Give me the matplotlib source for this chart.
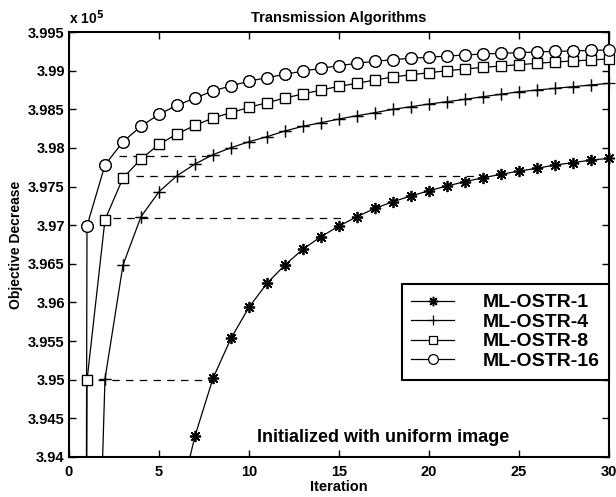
import numpy as np
import matplotlib
matplotlib.use('Agg')
import matplotlib.pyplot as plt
from matplotlib.ticker import MultipleLocator, FormatStrFormatter

plt.rcParams['font.family'] = ['Liberation Sans', 'DejaVu Sans']
plt.rcParams['font.weight'] = 'bold'

# iterations 0..30, values in units of 1e5
iters = np.arange(0, 31)

ostr1 = [3.0, 3.55, 3.74, 3.83, 3.88, 3.912, 3.933, 3.94272, 3.95018, 3.95536,
         3.95937, 3.96248, 3.96485, 3.9669, 3.96851, 3.96989, 3.9711, 3.97218,
         3.97304, 3.97378, 3.97446, 3.97507, 3.97563, 3.97614, 3.97658, 3.97701,
         3.97736, 3.97779, 3.97809, 3.97843, 3.97865]
ostr4 = [3.0, 3.873, 3.9501, 3.96485, 3.9711, 3.97433, 3.9764, 3.97792, 3.97912,
         3.98003, 3.9808, 3.98145, 3.98219, 3.9828, 3.98326, 3.98374, 3.98417,
         3.98456, 3.985, 3.98533, 3.98568, 3.98598, 3.98629, 3.98663, 3.98694,
         3.98727, 3.98749, 3.98771, 3.98792, 3.98814, 3.98836]
ostr8 = [3.0, 3.9499, 3.9707, 3.9761, 3.97856, 3.98047, 3.9818, 3.98292, 3.98387,
         3.98456, 3.98525, 3.98585, 3.98646, 3.98698, 3.98749, 3.98797, 3.98836,
         3.98879, 3.98918, 3.98947, 3.98973, 3.98999, 3.99021, 3.99043, 3.9906,
         3.99077, 3.99095, 3.99112, 3.99125, 3.99138, 3.99151]
ostr16 = [3.0, 3.9699, 3.9778, 3.9808, 3.9828, 3.98435, 3.9855, 3.98646, 3.98736,
          3.98805, 3.98862, 3.9891, 3.98952, 3.98995, 3.9903, 3.99064, 3.99095,
          3.99121, 3.99142, 3.9916, 3.99173, 3.99189, 3.99202, 3.99215, 3.99224,
          3.99233, 3.99241, 3.9925, 3.99254, 3.99263, 3.99267]

labels = ['ML-OSTR-1', 'ML-OSTR-4', 'ML-OSTR-8', 'ML-OSTR-16']

# dashed guide lines (equal objective levels)
dash_y = [3.9500, 3.9709, 3.9764, 3.9790]
dash_x0 = [1.6, 2.45, 3.7, 2.8]
dash_x1 = [8.0, 15.3, 23.5, 7.8]

fig = plt.figure(figsize=(6.16, 4.97), dpi=100)
ax = fig.add_axes([0.112, 0.0805, 0.8766, 0.8551])

ymin, ymax = 3.94, 3.995

for y, a, b in zip(dash_y, dash_x0, dash_x1):
    ax.plot([a, b], [y, y], color='black', lw=0.9, ls=(0, (6, 5)))

styles = [
    dict(marker=(8, 2, 0), ms=8, mew=1.1),
    dict(marker='+', ms=9, mew=0.9),
    dict(marker='s', ms=6.5, mew=0.9),
    dict(marker='o', ms=8.3, mew=0.9),
]
for vals, lab, st in zip([ostr1, ostr4, ostr8, ostr16], labels, styles):
    vals = np.array(vals)
    ax.plot(iters, vals, color='black', lw=0.9, mfc='white', mec='black',
            label=lab, **st)
    vis = vals >= ymin
    ax.plot(iters[vis], vals[vis], ls='none', mfc='white', mec='black',
            clip_on=False, zorder=5, **st)

ax.set_xlim(0, 30)
ax.set_ylim(ymin, ymax)
ax.xaxis.set_major_locator(MultipleLocator(5))
ax.yaxis.set_major_locator(MultipleLocator(0.005))
ax.yaxis.set_major_formatter(FormatStrFormatter('%g'))
ax.tick_params(direction='in', top=True, right=True, length=5, width=1,
               labelsize=10.5)
ax.tick_params(axis='x', pad=6)
ax.tick_params(axis='y', pad=3)
for lab in ax.get_xticklabels() + ax.get_yticklabels():
    lab.set_fontweight('bold')
for sp in ax.spines.values():
    sp.set_linewidth(1.5)

ax.set_title('Transmission Algorithms', fontsize=10.5, fontweight='bold', pad=7)
ax.set_xlabel('Iteration', fontsize=10.5, fontweight='bold', labelpad=0.5)
ax.set_ylabel('Objective Decrease', fontsize=10, fontweight='bold', labelpad=4)
ax.text(0.0, 1.012, r'x 10$^{5}$', transform=ax.transAxes, fontsize=10,
        fontweight='bold', ha='left', va='bottom')
ax.text(0.349, 0.047, 'Initialized with uniform image', transform=ax.transAxes,
        fontsize=13, fontweight='bold', ha='left', va='center')

leg = ax.legend(loc='upper right', bbox_to_anchor=(1.0, 0.407), fontsize=14,
                labelspacing=0.1, handlelength=2.2, handletextpad=1.45,
                borderpad=0.5, borderaxespad=0, fancybox=False, framealpha=1,
                markerscale=0.85)
leg.get_frame().set_edgecolor('black')
leg.get_frame().set_linewidth(1.5)
for t in leg.get_texts():
    t.set_fontweight('bold')

fig.savefig('out.png', dpi=100)
